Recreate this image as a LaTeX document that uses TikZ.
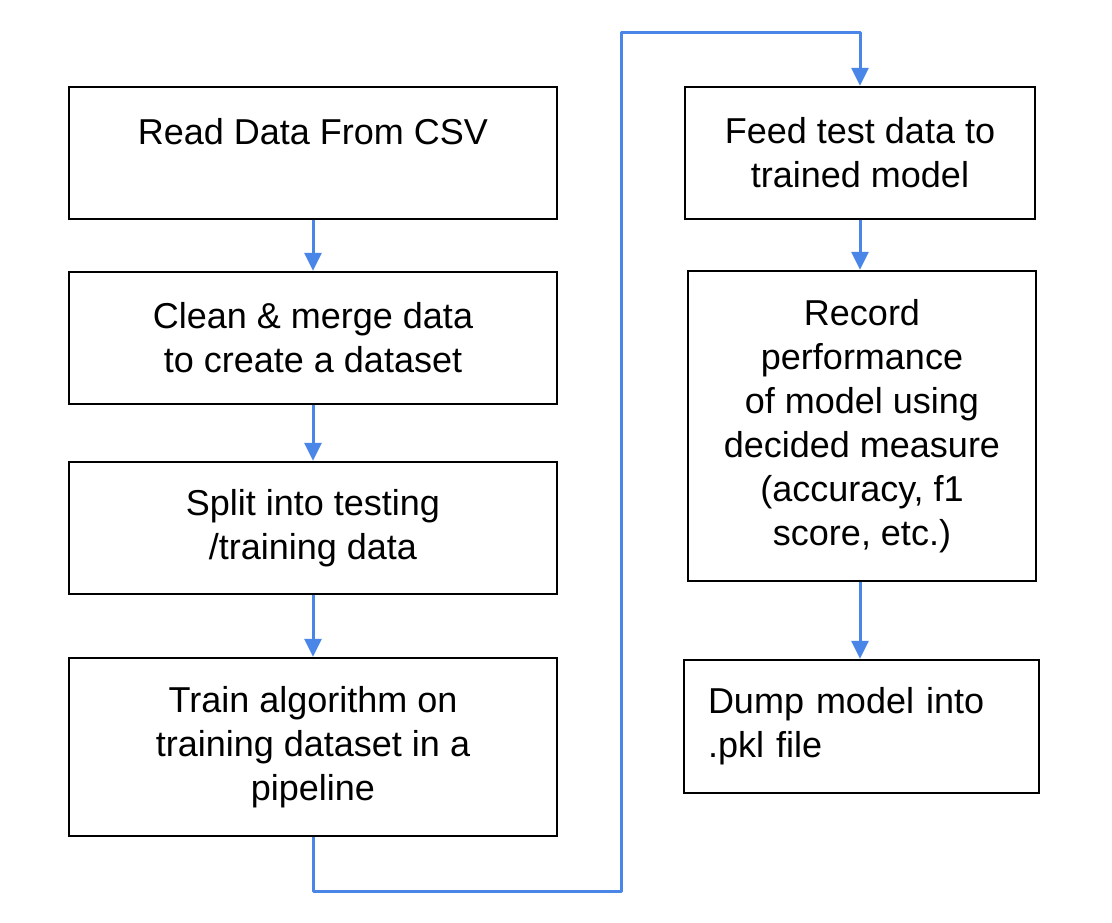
\documentclass[tikz,border=0pt]{standalone}
\usepackage{fontspec}
\setmainfont{Liberation Sans}
\usetikzlibrary{arrows.meta}
\definecolor{flowblue}{HTML}{4A86E8}
\begin{document}
\begin{tikzpicture}[x=1pt,y=-1pt,
  box/.style={draw=black,line width=2.4pt,rectangle,inner sep=0pt,align=center,
    font=\fontsize{36}{44}\selectfont},
  flow/.style={draw=flowblue,line width=3pt,line join=round,
    -{Triangle[width=17pt,length=18pt]}}]
\useasboundingbox (0,0) rectangle (1112,922);
\fill[white] (0,0) rectangle (1112,922);
\node[box,minimum width=488pt,minimum height=132pt] (b1) at (313,153) {Read Data From CSV\\\mbox{}};
\node[box,minimum width=488pt,minimum height=132pt] (b2) at (313,338) {Clean \& merge data\\to create a dataset};
\node[box,minimum width=488pt,minimum height=132pt] (b3) at (313,528) {Split into testing\\/training data};
\node[box,minimum width=488pt,minimum height=178pt] (b4) at (313,747) {Train algorithm on\\training dataset in a\\pipeline};
\node[box,minimum width=350pt,minimum height=132pt] (b5) at (860,153) {Feed test data to\\trained model};
\node[box,minimum width=348pt,minimum height=310pt] (b6) at (862,426) {Record\\performance\\of model using\\decided measure\\(accuracy, f1\\score, etc.)};
\node[box,minimum width=355pt,minimum height=133pt,text width=307pt,align=left,inner xsep=24pt] (b7) at (861.5,726.5) {Dump model into\\.pkl file};
\coordinate (l1) at (621,891);
\coordinate (l2) at (621,32);
\draw[flow] (b1.south) -- (b2.north);
\draw[flow] (b2.south) -- (b3.north);
\draw[flow] (b3.south) -- (b4.north);
\draw[flow] (b4.south) |- (l1) -- (l2) -| (b5.north);
\draw[flow] (b5.south) -- (b5.south |- b6.north);
\draw[flow] (b6.south -| b5.south) -- (b5.south |- b7.north);
\end{tikzpicture}
\end{document}
